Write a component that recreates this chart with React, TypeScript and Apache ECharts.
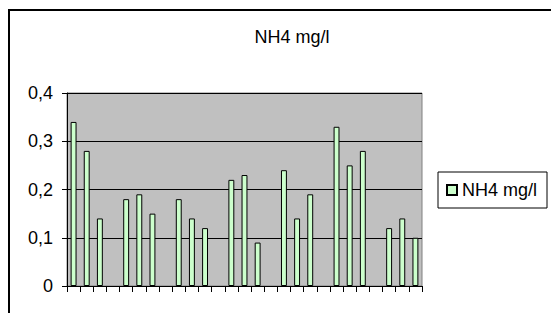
import React, { useEffect, useRef } from "react";
import * as echarts from "echarts";

const titleText = "NH4 mg/l";
const seriesName = "NH4 mg/l";
const categories: string[] = Array.from({ length: 27 }, (_, i) => `c${i + 1}`);
const values: (number | null)[] = [
  0.34, 0.28, 0.14, null,
  0.18, 0.19, 0.15, null,
  0.18, 0.14, 0.12, null,
  0.22, 0.23, 0.09, null,
  0.24, 0.14, 0.19, null,
  0.33, 0.25, 0.28, null,
  0.12, 0.14, 0.10,
];
const yMin = 0;
const yMax = 0.4;
const yStep = 0.1;

const FONT = "'Liberation Sans', Arial, sans-serif";

export default function App() {
  const ref = useRef<HTMLDivElement>(null);
  useEffect(() => {
    if (!ref.current) return;
    const chart = echarts.init(ref.current, undefined, { renderer: "svg" });
    chart.setOption({
      animation: false,
      backgroundColor: "#ffffff",
      textStyle: { fontFamily: FONT },
      title: {
        text: titleText,
        left: 279,
        top: 15,
        textAlign: "center",
        textStyle: { fontSize: 18, fontWeight: "normal", color: "#000", fontFamily: FONT },
      },
      graphic: [
        {
          type: "rect",
          shape: { x: 1, y: 2, width: 700, height: 500 },
          style: { fill: "none", stroke: "#000", lineWidth: 2 },
          silent: true,
        },
      ],
      legend: {
        left: 430,
        top: 164,
        orient: "vertical",
        padding: [8, 10, 8, 8],
        borderColor: "#000",
        borderWidth: 1,
        backgroundColor: "#fff",
        icon: "rect",
        itemWidth: 10,
        itemHeight: 10,
        textStyle: { fontSize: 18, lineHeight: 20, color: "#000", fontFamily: FONT },
        data: [seriesName],
      },
      grid: {
        left: 59,
        top: 85,
        width: 355,
        height: 193,
        show: true,
        backgroundColor: "#c0c0c0",
        borderColor: "#808080",
        borderWidth: 1,
      },
      xAxis: {
        type: "category",
        data: categories,
        boundaryGap: true,
        axisLine: { show: true, lineStyle: { color: "#000", width: 1 } },
        axisTick: { show: true, length: 6, interval: 0, lineStyle: { color: "#000" } },
        axisLabel: { show: false },
        splitLine: { show: false },
      },
      yAxis: {
        type: "value",
        min: yMin,
        max: yMax,
        interval: yStep,
        axisLine: { show: true, lineStyle: { color: "#000", width: 1 } },
        axisTick: { show: true, length: 5, lineStyle: { color: "#000" } },
        axisLabel: {
          margin: 14,
          fontSize: 18,
          color: "#000",
          fontFamily: FONT,
          formatter: (v: number) => String(Math.round(v * 10) / 10).replace(".", ","),
        },
        splitLine: { show: true, lineStyle: { color: "#000", width: 1 } },
      },
      series: [
        {
          name: seriesName,
          type: "bar",
          data: values,
          barWidth: "45%",
          itemStyle: { color: "#ccffcc", borderColor: "#000", borderWidth: 1 },
        },
      ],
    });
    return () => chart.dispose();
  }, []);
  return (
    <div
      ref={ref}
      style={{ position: "absolute", left: 8, top: 8, width: 543, height: 305 }}
    />
  );
}
